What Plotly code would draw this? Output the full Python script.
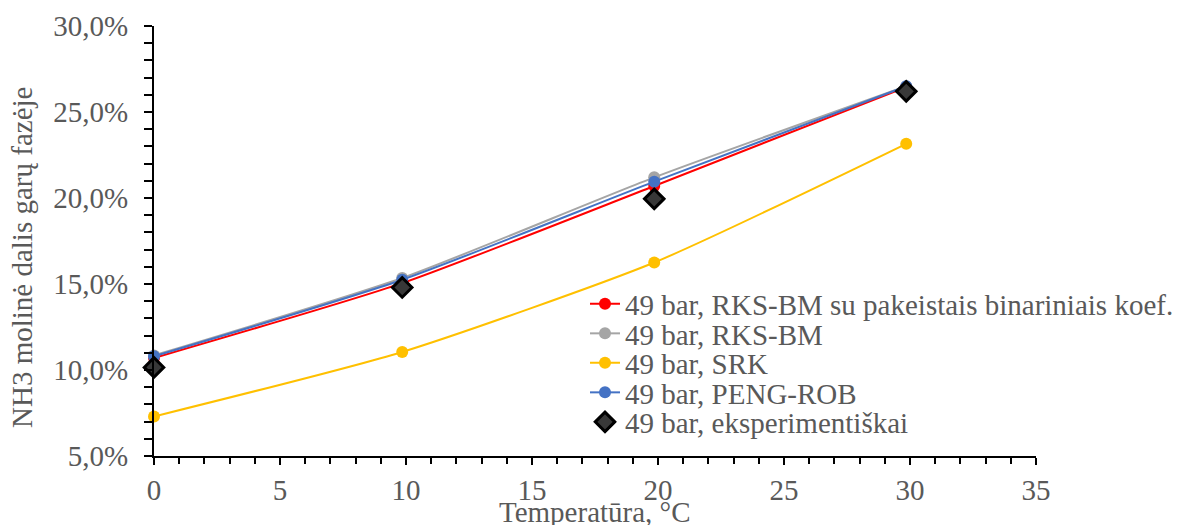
import plotly.graph_objects as go

# Temperatures (°C) and NH3 mole fraction in the vapour phase (%)
temperature = [0.0, 9.85, 19.85, 29.85]
rks_bm_mod = [10.7, 15.05, 20.7, 26.45]
rks_bm = [10.85, 15.35, 21.2, 26.5]
srk = [7.3, 11.05, 16.25, 23.15]
peng_rob = [10.8, 15.25, 20.95, 26.5]
experiment = [10.15, 14.8, 19.95, 26.2]

names = [
    "49 bar, RKS-BM su pakeistais binariniais koef.",
    "49 bar, RKS-BM",
    "49 bar, SRK",
    "49 bar, PENG-ROB",
    "49 bar, eksperimentiškai",
]

FONT = "Liberation Serif, Times New Roman, serif"
GREY = "#595959"
W, H = 1182, 525
L, R, T, B = 154, 146, 26, 69
PW, PH = W - L - R, H - T - B

fig = go.Figure()

series = [
    (rks_bm_mod, "#FF0000"),
    (rks_bm, "#A5A5A5"),
    (srk, "#FFC000"),
    (peng_rob, "#4472C4"),
]
for i, (vals, col) in enumerate(series):
    fig.add_trace(go.Scatter(
        x=temperature, y=vals, name=names[i],
        mode="lines+markers",
        line=dict(color=col, width=2, shape="spline", smoothing=0.6),
        marker=dict(color=col, size=12),
        legend="legend" if i == 0 else f"legend{i + 1}",
        showlegend=True,
        cliponaxis=False,
    ))

fig.add_trace(go.Scatter(
    x=temperature, y=experiment, name=names[4],
    mode="markers",
    marker=dict(symbol="diamond", size=15, color="#383838",
                line=dict(color="#000000", width=3)),
    legend="legend5",
    showlegend=True,
    cliponaxis=False,
))

# one legend box per entry so the row pitch stays tight
legend_x_px = 585
row0, pitch = 304, 29.5
legend_layout = {}
for i in range(5):
    key = "legend" if i == 0 else f"legend{i + 1}"
    ypx = row0 + i * pitch
    legend_layout[key] = dict(
        x=(legend_x_px - L) / PW, xanchor="left",
        y=(H - B - ypx) / PH, yanchor="middle",
        bgcolor="rgba(0,0,0,0)",
        font=dict(family=FONT, size=29, color=GREY),
        itemwidth=30,
        visible=True,
    )

fig.update_layout(
    width=W, height=H,
    margin=dict(l=L, r=R, t=T, b=B, pad=0, autoexpand=False),
    paper_bgcolor="white", plot_bgcolor="white",
    separators=", ",
    showlegend=True,
    font=dict(family=FONT, size=29, color=GREY),
    **legend_layout,
)

fig.update_xaxes(
    range=[0, 35], dtick=5, tick0=0,
    automargin=False,
    showgrid=False, zeroline=False,
    showline=True, linecolor="black", linewidth=2,
    ticks="outside", ticklen=7, tickwidth=2, tickcolor="black",
    minor=dict(dtick=1, ticks="outside", ticklen=6, tickwidth=2, tickcolor="black"),
    tickfont=dict(family=FONT, size=29, color=GREY),
    ticklabelstandoff=0,
)

fig.update_yaxes(
    range=[5, 30], dtick=5, tick0=5,
    automargin=False,
    showgrid=False, zeroline=False,
    showline=True, linecolor="black", linewidth=2,
    ticks="outside", ticklen=8, tickwidth=2, tickcolor="black",
    minor=dict(dtick=1, ticks="outside", ticklen=8, tickwidth=2, tickcolor="black"),
    tickformat=".1f", ticksuffix="%",
    tickfont=dict(family=FONT, size=29, color=GREY),
    ticklabelstandoff=10,
)

# axis titles
fig.add_annotation(
    text="NH3 molinė dalis garų fazėje",
    xref="paper", yref="paper",
    x=(22 - L) / PW, y=(H - B - 258) / PH,
    xanchor="center", yanchor="middle",
    textangle=-90, showarrow=False,
    font=dict(family=FONT, size=29, color=GREY),
)
fig.add_annotation(
    text="Temperatūra, °C",
    xref="paper", yref="paper",
    x=0.5, y=(H - B - 512) / PH,
    xanchor="center", yanchor="middle",
    showarrow=False,
    font=dict(family=FONT, size=29, color=GREY),
)

fig.write_html("out.html")
